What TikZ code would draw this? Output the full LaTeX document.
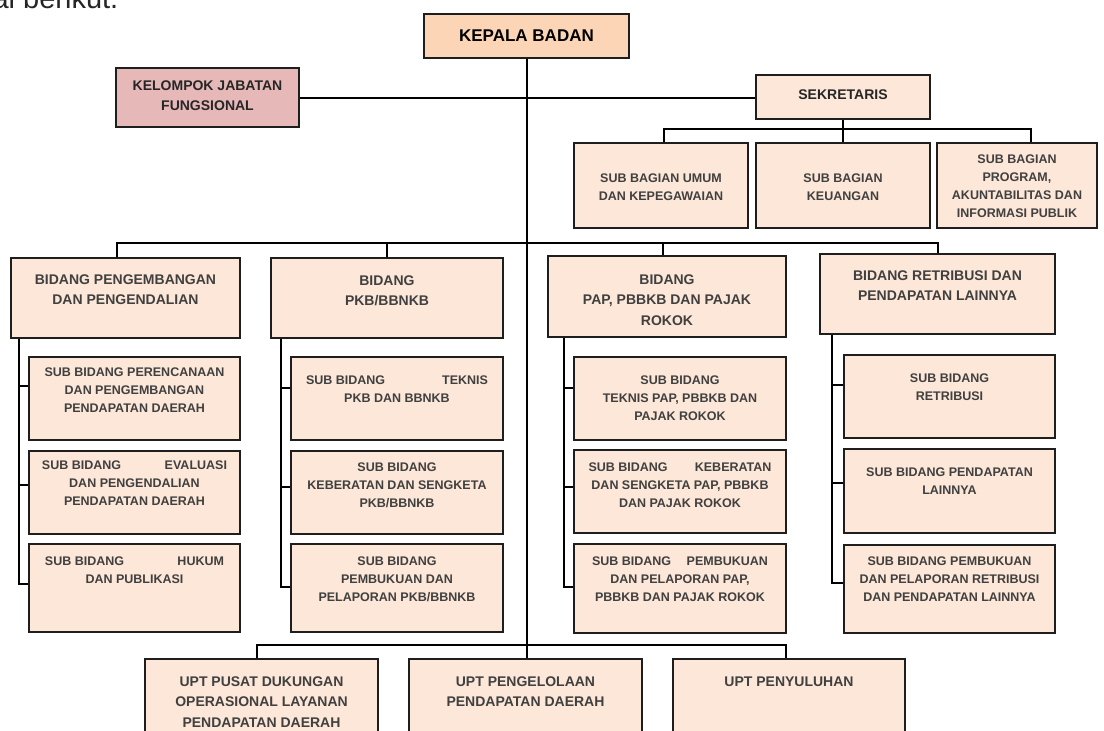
\documentclass[tikz,border=0pt]{standalone}
\usepackage{fontspec}
\setmainfont{Liberation Sans}
\definecolor{kepfill}{HTML}{FBD5B5}
\definecolor{boxfill}{HTML}{FCE7D8}
\definecolor{kjffill}{HTML}{E6B8B7}
\definecolor{boxline}{HTML}{1E1E1E}
\definecolor{txtgray}{HTML}{404040}
\newcommand{\bigtxt}{\bfseries\fontsize{14}{20.5}\selectfont}
\newcommand{\subtxt}{\bfseries\fontsize{12.5}{18}\selectfont}
\newcommand{\boxtxt}[4]{\parbox[c][#2pt][t]{#1pt}{\centering\vspace*{#3pt}\strut#4\par}}
\tikzset{
  box/.style={draw=boxline,line width=2pt,fill=boxfill,inner sep=0pt,anchor=north west,text=txtgray},
  link/.style={draw=black,line width=2pt}
}
\begin{document}
\begin{tikzpicture}[x=1pt,y=-1pt]
  \fill[white] (0,0) rectangle (1104,731);
  \useasboundingbox (0,0) rectangle (1104,731);
  \node[anchor=base west,inner sep=0pt,text=black!85,font=\fontsize{29}{34}\selectfont] (intro) at (-7.6,8.3) {ai berikut.};%cut off text
  % top
  \node[box,fill=kepfill,text=black,font=\bfseries\fontsize{17}{20.4}\selectfont] (kepala) at (423,13) {\boxtxt{205}{44}{13.7}{KEPALA BADAN}};
  \node[box,fill=kjffill,text=black!85,font=\bigtxt] (kjf) at (115,67) {\boxtxt{183}{59}{7.65}{KELOMPOK JABATAN\\FUNGSIONAL}};
  \node[box,text=black!85,font=\bigtxt] (sek) at (755,74) {\boxtxt{174}{44}{9.65}{SEKRETARIS}};
  % sub bagian
  \node[box,font=\subtxt] (sbumum) at (573,142) {\boxtxt{174}{85}{26.4}{SUB BAGIAN UMUM\\DAN KEPEGAWAIAN}};
  \node[box,font=\subtxt] (sbkeu) at (755,142) {\boxtxt{174}{85}{26.4}{SUB BAGIAN\\KEUANGAN}};
  \node[box,font=\subtxt] (sbprog) at (936,142) {\boxtxt{160}{85}{7.4}{SUB BAGIAN\\PROGRAM,\\AKUNTABILITAS DAN\\INFORMASI PUBLIK}};
  % bidang
  \node[box,font=\bigtxt] (b1) at (10,257) {\boxtxt{229}{80}{11.65}{BIDANG PENGEMBANGAN\\DAN PENGENDALIAN}};
  \node[box,font=\bigtxt] (b2) at (270,257) {\boxtxt{232}{80}{12.65}{BIDANG\\PKB/BBNKB}};
  \node[box,font=\bigtxt] (b3) at (547,255) {\boxtxt{238}{81}{13.65}{BIDANG\\PAP, PBBKB DAN PAJAK\\ROKOK}};
  \node[box,font=\bigtxt] (b4) at (819,253) {\boxtxt{235}{80}{11.65}{BIDANG RETRIBUSI DAN\\PENDAPATAN LAINNYA}};
  % sub bidang, column 1
  \node[box,font=\subtxt] (s11) at (28,356) {\boxtxt{211}{83}{6.4}{SUB BIDANG PERENCANAAN\\DAN PENGEMBANGAN\\PENDAPATAN DAERAH}};
  \node[box,font=\subtxt] (s12) at (28,450) {\boxtxt{211}{83}{5.4}{\makebox[185pt]{SUB BIDANG\hfill EVALUASI}\\DAN PENGENDALIAN\\PENDAPATAN DAERAH}};
  \node[box,font=\subtxt] (s13) at (28,543) {\boxtxt{211}{88}{8.4}{\makebox[179pt]{SUB BIDANG\hfill HUKUM}\\DAN PUBLIKASI}};
  % column 2
  \node[box,font=\subtxt] (s21) at (290,356) {\boxtxt{212}{83}{14.4}{\makebox[182pt]{SUB BIDANG\hfill TEKNIS}\\PKB DAN BBNKB}};
  \node[box,font=\subtxt] (s22) at (290,450) {\boxtxt{212}{83}{7.4}{SUB BIDANG\\KEBERATAN DAN SENGKETA\\PKB/BBNKB}};
  \node[box,font=\subtxt] (s23) at (290,543) {\boxtxt{212}{88}{8.4}{SUB BIDANG\\PEMBUKUAN DAN\\PELAPORAN PKB/BBNKB}};
  % column 3
  \node[box,font=\subtxt] (s31) at (573,356) {\boxtxt{212}{83}{14.4}{SUB BIDANG\\TEKNIS PAP, PBBKB DAN\\PAJAK ROKOK}};
  \node[box,font=\subtxt] (s32) at (573,449) {\boxtxt{212}{83}{8.4}{\makebox[183pt]{SUB BIDANG\hfill KEBERATAN}\\DAN SENGKETA PAP, PBBKB\\DAN PAJAK ROKOK}};
  \node[box,font=\subtxt] (s33) at (573,543) {\boxtxt{212}{89}{8.4}{\makebox[176pt]{SUB BIDANG\hfill PEMBUKUAN}\\DAN PELAPORAN PAP,\\PBBKB DAN PAJAK ROKOK}};
  % column 4
  \node[box,font=\subtxt] (s41) at (843,354) {\boxtxt{211}{83}{14.4}{SUB BIDANG\\RETRIBUSI}};
  \node[box,font=\subtxt] (s42) at (843,448) {\boxtxt{211}{84}{14.4}{SUB BIDANG PENDAPATAN\\LAINNYA}};
  \node[box,font=\subtxt] (s43) at (843,544) {\boxtxt{211}{88}{7.4}{SUB BIDANG PEMBUKUAN\\DAN PELAPORAN RETRIBUSI\\DAN PENDAPATAN LAINNYA}};
  % upt
  \node[box,font=\bigtxt] (u1) at (144,658) {\boxtxt{233}{90}{12.65}{UPT PUSAT DUKUNGAN\\OPERASIONAL LAYANAN\\PENDAPATAN DAERAH}};
  \node[box,font=\bigtxt] (u2) at (408,658) {\boxtxt{233}{90}{12.65}{UPT PENGELOLAAN\\PENDAPATAN DAERAH}};
  \node[box,font=\bigtxt] (u3) at (672,658) {\boxtxt{232}{90}{12.65}{UPT PENYULUHAN}};

  % lines
  \draw[link] (kepala.south) -- (kepala.south |- u2.north);%trunk
  \draw[link] (kjf.east) -- (kjf.east -| sek.west);%fungsional to sekretaris
  \coordinate (sekbus) at (0,129);
  \coordinate (sbumumtop) at ([xshift=3pt]sbumum.north);
  \coordinate (sbprogtop) at ([xshift=14pt]sbprog.north);
  \draw[link] (sek.south) -- (sbkeu.north);
  \draw[link] (sbumumtop) |- (sbprogtop |- sekbus) -- (sbprogtop);
  \coordinate (bbus) at (0,243);%bidang bus
  \coordinate (b1top) at ([xshift=-8.5pt]b1.north);
  \coordinate (b3top) at ([xshift=-4pt]b3.north);
  \draw[link] (b1top) |- (b4.north |- bbus) -- (b4.north);
  \draw[link] (b2.north) -- (b2.north |- bbus);
  \draw[link] (b3top) -- (b3top |- bbus);
  % column 1
  \draw[link] ([xshift=8.6pt]b1.south west) |- ([yshift=-41pt]s13.north west);
  \draw[link] ([yshift=-30pt]s11.north west) -- ++(-9.4,0);
  \draw[link] ([yshift=-35pt]s12.north west) -- ++(-9.4,0);
  % column 2
  \draw[link] ([xshift=11pt]b2.south west) |- ([yshift=-44pt]s23.north west);
  \draw[link] ([yshift=-32pt]s21.north west) -- ++(-9,0);
  \draw[link] ([yshift=-37pt]s22.north west) -- ++(-9,0);
  % column 3
  \draw[link] ([xshift=17pt]b3.south west) |- ([yshift=-44pt]s33.north west);
  \draw[link] ([yshift=-32pt]s31.north west) -- ++(-9,0);
  \draw[link] ([yshift=-38pt]s32.north west) -- ++(-9,0);
  % column 4
  \draw[link] ([xshift=13pt]b4.south west) |- ([yshift=-39pt]s43.north west);
  \draw[link] ([yshift=-31pt]s41.north west) -- ++(-11,0);
  \draw[link] ([yshift=-35pt]s42.north west) -- ++(-11,0);
  % upt bus
  \coordinate (ubus) at (0,645);
  \coordinate (u1top) at ([xshift=-4.5pt]u1.north);
  \coordinate (u3top) at ([xshift=-3.5pt]u3.north);
  \draw[link] (u1top) |- (u3top |- ubus) -- (u3top);
\end{tikzpicture}
\end{document}
